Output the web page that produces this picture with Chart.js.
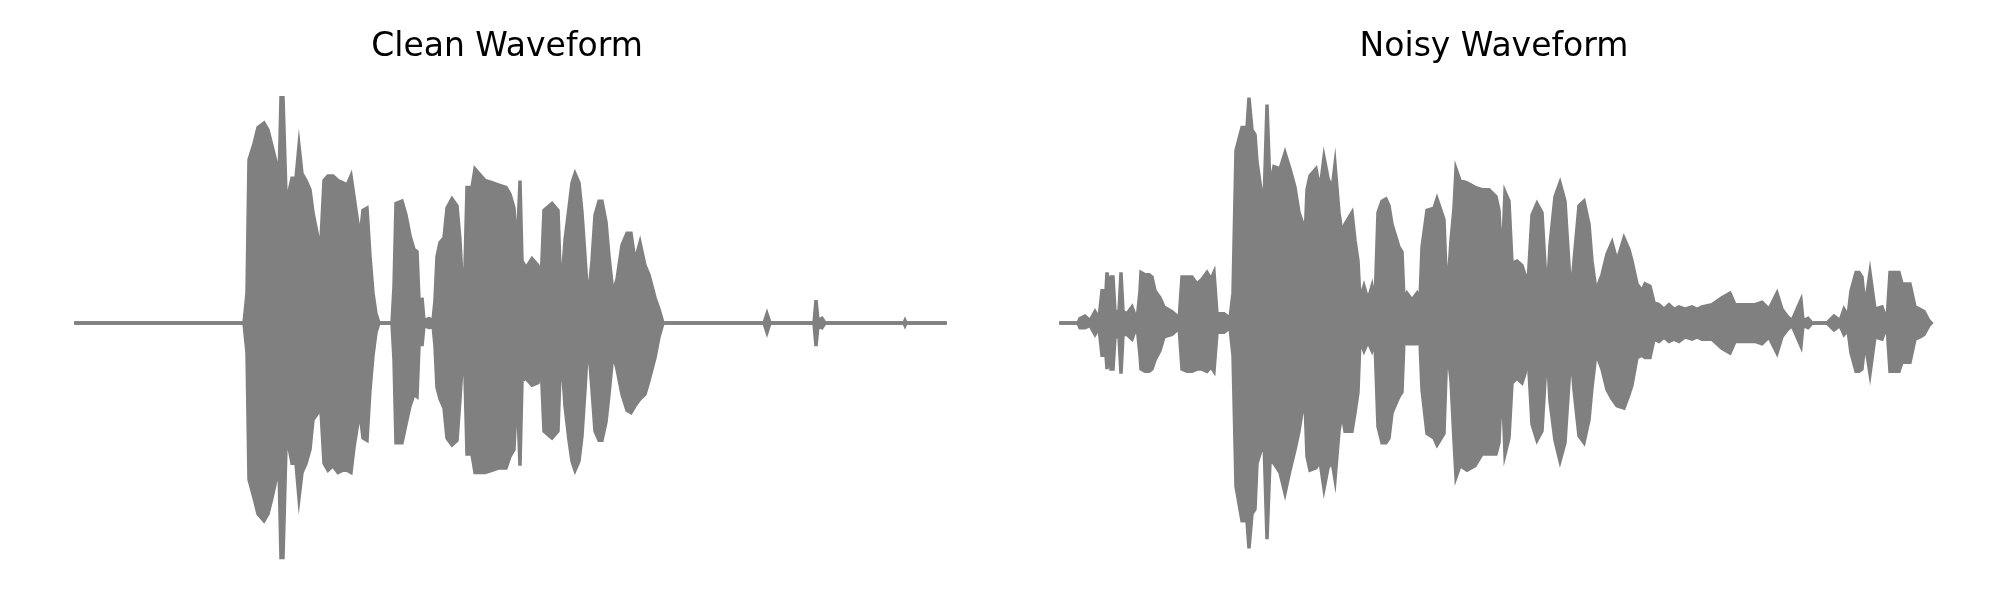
<!DOCTYPE html>
<html>
<head>
<meta charset="utf-8">
<script src="https://cdn.jsdelivr.net/npm/chart.js@4.4.1/dist/chart.umd.min.js"></script>
<style>
  body { margin: 0; background: #fff; }
  .row { display: flex; width: 2000px; height: 600px; }
  canvas { display: block; }
</style>
</head>
<body>
<div class="row">
  <canvas id="clean" width="1000" height="600"></canvas>
  <canvas id="noisy" width="1000" height="600"></canvas>
</div>
<script>
// envelope of each waveform: [time s, upper amp, lower amp]
const cleanRows = [
  [0,0,0],[0.84,0,0],[0.855,0.13,-0.13],[0.865,0.71,-0.68],[0.89,0.78,-0.76],[0.91,0.85,-0.83],
  [0.94,0.87,-0.86],[0.96,0.84,-0.83],[0.98,0.77,-0.76],[1.00,0.70,-0.68],[1.01,0.43,-0.43],
  [1.025,0.98,-1.02],[1.035,0.98,-1.02],[1.05,0.56,-0.54],[1.065,0.57,-0.54],[1.08,0.63,-0.61],
  [1.10,0.63,-0.61],[1.115,0.77,-0.76],[1.13,0.65,-0.65],[1.15,0.62,-0.61],[1.17,0.58,-0.55],
  [1.185,0.48,-0.42],[1.21,0.37,-0.39],[1.225,0.36,-0.38],[1.24,0.62,-0.61],[1.26,0.64,-0.64],
  [1.285,0.64,-0.62],[1.31,0.62,-0.65],[1.335,0.61,-0.64],[1.355,0.60,-0.64],[1.375,0.64,-0.65],
  [1.39,0.55,-0.54],[1.41,0.43,-0.43],[1.42,0.37,-0.39],[1.435,0.49,-0.50],[1.455,0.50,-0.51],
  [1.47,0.29,-0.29],[1.485,0.13,-0.14],[1.50,0.04,-0.04],[1.515,0,0],[1.58,0,0],
  [1.59,0.16,-0.16],[1.6,0.52,-0.52],[1.63,0.53,-0.52],[1.65,0.47,-0.44],[1.67,0.38,-0.36],
  [1.69,0.32,-0.31],[1.705,0.31,-0.32],[1.715,0.10,-0.10],[1.725,0.02,-0.02],[1.73,0.11,-0.10],
  [1.74,0.01,-0.01],[1.765,0.02,-0.02],[1.785,0.01,-0.01],[1.795,0.10,-0.10],[1.805,0.29,-0.28],
  [1.82,0.35,-0.33],[1.84,0.37,-0.37],[1.855,0.50,-0.50],[1.88,0.54,-0.53],[1.905,0.51,-0.51],
  [1.92,0.36,-0.33],[1.93,0.19,-0.19],[1.94,0.07,-0.06],[1.955,0.59,-0.57],[1.98,0.59,-0.57],
  [1.995,0.67,-0.65],[2.015,0.65,-0.65],[2.045,0.62,-0.65],[2.08,0.61,-0.64],[2.115,0.60,-0.63],
  [2.15,0.59,-0.63],[2.17,0.56,-0.58],[2.19,0.50,-0.55],[2.205,0.30,-0.27],[2.22,0.62,-0.62],
  [2.23,0.27,-0.25],[2.25,0.24,-0.24],[2.28,0.28,-0.27],[2.31,0.25,-0.26],[2.325,0.17,-0.17],
  [2.34,0.49,-0.47],[2.38,0.52,-0.50],[2.41,0.49,-0.47],[2.425,0.11,-0.10],[2.445,0.36,-0.36],
  [2.465,0.50,-0.51],[2.48,0.61,-0.60],[2.495,0.65,-0.64],[2.515,0.61,-0.60],[2.53,0.48,-0.49],
  [2.545,0.29,-0.29],[2.56,0.09,-0.06],[2.58,0.27,-0.29],[2.595,0.47,-0.47],[2.615,0.53,-0.51],
  [2.63,0.53,-0.51],[2.65,0.44,-0.43],[2.665,0.29,-0.31],[2.685,0.13,-0.13],[2.705,0.19,-0.20],
  [2.73,0.34,-0.31],[2.755,0.39,-0.38],[2.775,0.39,-0.39],[2.795,0.27,-0.36],[2.82,0.35,-0.33],
  [2.845,0.25,-0.31],[2.865,0.21,-0.25],[2.895,0.11,-0.15],[2.915,0.06,-0.06],[2.935,0,0],
  [3.44,0,0],[3.455,0.04,-0.04],[3.47,0,0],[3.69,0,0],[3.70,0.10,-0.10],[3.71,0.01,-0.01],
  [3.73,0.02,-0.02],[3.745,0,0],[4.14,0,0],[4.145,0.01,-0.01],[4.15,0,0],[4.345,0,0]
];

const noisyRows = [
  [0,0,0],[0.085,0,0],[0.095,0.02,-0.02],[0.12,0.03,-0.02],[0.145,0.01,-0.01],[0.17,0.05,-0.05],
  [0.19,0.02,-0.02],[0.205,0.14,-0.14],[0.225,0.14,-0.14],[0.23,0.22,-0.20],[0.24,0.12,-0.12],
  [0.25,0.20,-0.20],[0.26,0.20,-0.20],[0.27,0.05,-0.06],[0.29,0.05,-0.06],[0.30,0.22,-0.22],
  [0.31,0.05,-0.05],[0.33,0.04,-0.05],[0.355,0.07,-0.07],[0.38,0.01,-0.01],[0.395,0.14,-0.14],
  [0.40,0.22,-0.20],[0.42,0.21,-0.21],[0.44,0.21,-0.21],[0.455,0.20,-0.20],[0.47,0.14,-0.16],
  [0.495,0.11,-0.12],[0.515,0.07,-0.06],[0.555,0.05,-0.05],[0.58,0.03,-0.03],[0.59,0.01,-0.01],
  [0.605,0.20,-0.20],[0.63,0.20,-0.21],[0.655,0.20,-0.21],[0.68,0.17,-0.20],[0.705,0.19,-0.20],
  [0.73,0.22,-0.21],[0.75,0.19,-0.19],[0.765,0.22,-0.21],[0.78,0.04,-0.04],[0.815,0.04,-0.04],
  [0.845,0.02,-0.02],[0.86,0.13,-0.14],[0.875,0.75,-0.71],[0.905,0.85,-0.86],[0.93,0.85,-0.86],
  [0.94,0.98,-0.98],[0.955,0.84,-0.83],[0.97,0.82,-0.81],[0.98,0.70,-0.61],[1.005,0.55,-0.54],
  [1.015,0.52,-0.51],[1.03,0.95,-0.94],[1.045,0.59,-0.60],[1.065,0.68,-0.61],[1.095,0.67,-0.65],
  [1.12,0.74,-0.74],[1.145,0.67,-0.64],[1.17,0.59,-0.55],[1.19,0.48,-0.47],[1.21,0.43,-0.36],
  [1.22,0.36,-0.34],[1.23,0.58,-0.58],[1.245,0.64,-0.64],[1.275,0.67,-0.63],[1.295,0.58,-0.60],
  [1.315,0.72,-0.72],[1.335,0.63,-0.63],[1.355,0.58,-0.60],[1.37,0.69,-0.68],[1.39,0.48,-0.47],
  [1.405,0.39,-0.39],[1.42,0.43,-0.47],[1.455,0.48,-0.47],[1.47,0.36,-0.39],[1.485,0.27,-0.30],
  [1.495,0.10,-0.07],[1.515,0.16,-0.12],[1.535,0.10,-0.08],[1.555,0.16,-0.12],[1.57,0.08,-0.08],
  [1.585,0.48,-0.45],[1.605,0.53,-0.52],[1.625,0.54,-0.52],[1.64,0.51,-0.50],[1.655,0.43,-0.39],
  [1.69,0.33,-0.32],[1.705,0.31,-0.30],[1.715,0.10,-0.07],[1.73,0.13,-0.09],[1.755,0.10,-0.09],
  [1.78,0.13,-0.09],[1.795,0.10,-0.08],[1.805,0.33,-0.29],[1.83,0.49,-0.48],[1.865,0.50,-0.50],
  [1.88,0.54,-0.53],[1.915,0.45,-0.48],[1.93,0.10,-0.09],[1.95,0.36,-0.25],[1.965,0.50,-0.51],
  [1.975,0.67,-0.67],[1.995,0.62,-0.62],[2.03,0.61,-0.64],[2.07,0.59,-0.62],[2.105,0.58,-0.57],
  [2.14,0.58,-0.57],[2.175,0.55,-0.57],[2.19,0.49,-0.52],[2.205,0.24,-0.22],[2.22,0.57,-0.57],
  [2.24,0.53,-0.50],[2.255,0.26,-0.26],[2.28,0.27,-0.24],[2.305,0.25,-0.26],[2.32,0.21,-0.22],
  [2.335,0.17,-0.13],[2.355,0.47,-0.44],[2.38,0.52,-0.51],[2.405,0.48,-0.47],[2.43,0.10,-0.10],
  [2.445,0.34,-0.34],[2.47,0.55,-0.51],[2.495,0.61,-0.60],[2.52,0.53,-0.52],[2.535,0.32,-0.32],
  [2.55,0.11,-0.12],[2.565,0.27,-0.29],[2.59,0.51,-0.49],[2.615,0.53,-0.52],[2.64,0.43,-0.42],
  [2.655,0.27,-0.28],[2.675,0.14,-0.13],[2.705,0.21,-0.20],[2.73,0.30,-0.29],[2.755,0.35,-0.33],
  [2.78,0.27,-0.36],[2.815,0.37,-0.37],[2.84,0.32,-0.31],[2.855,0.27,-0.27],[2.88,0.17,-0.15],
  [2.905,0.14,-0.14],[2.92,0.17,-0.15],[2.945,0.16,-0.15],[2.965,0.09,-0.07],[2.99,0.08,-0.08],
  [3.015,0.06,-0.06],[3.04,0.08,-0.08],[3.065,0.06,-0.07],[3.09,0.07,-0.08],[3.12,0.06,-0.06],
  [3.155,0.07,-0.07],[3.18,0.06,-0.06],[3.205,0.07,-0.07],[3.255,0.08,-0.07],[3.305,0.11,-0.11],
  [3.345,0.13,-0.13],[3.37,0.08,-0.08],[3.42,0.08,-0.08],[3.47,0.08,-0.08],[3.505,0.09,-0.09],
  [3.54,0.06,-0.06],[3.58,0.13,-0.13],[3.605,0.06,-0.06],[3.63,0.03,-0.03],[3.655,0.01,-0.01],
  [3.70,0.10,-0.10],[3.71,0.01,-0.01],[3.735,0.02,-0.02],[3.755,0,0],[3.83,0,0],
  [3.865,0.03,-0.03],[3.895,0.01,-0.01],[3.915,0.06,-0.05],[3.935,0.03,-0.03],[3.95,0.14,-0.13],
  [3.975,0.22,-0.21],[3.99,0.22,-0.21],[4.005,0.20,-0.20],[4.02,0.07,-0.08],[4.045,0.22,-0.22],
  [4.07,0.06,-0.06],[4.105,0.07,-0.07],[4.13,0.01,-0.01],[4.145,0.22,-0.21],[4.17,0.22,-0.21],
  [4.19,0.22,-0.21],[4.205,0.17,-0.17],[4.245,0.17,-0.17],[4.27,0.07,-0.07],[4.295,0.06,-0.06],
  [4.315,0.05,-0.05],[4.34,0.01,-0.01],[4.35,0,0]
];

const cleanTime = cleanRows.map(r => r[0]);
const cleanUpper = cleanRows.map(r => r[1]);
const cleanLower = cleanRows.map(r => r[2]);
const noisyTime = noisyRows.map(r => r[0]);
const noisyUpper = noisyRows.map(r => r[1]);
const noisyLower = noisyRows.map(r => r[2]);

const duration = 4.35;
const waveColor = '#808080';

function createWaveformChart(canvasId, title, time, upper, lower, xMin, pad) {
  const ctx = document.getElementById(canvasId);
  const toPoints = vals => vals.map((v, i) => ({ x: time[i], y: v }));
  const lineStyle = {
    borderColor: waveColor,
    backgroundColor: waveColor,
    borderWidth: 3.5,
    borderCapStyle: 'square',
    borderJoinStyle: 'miter',
    pointRadius: 0,
    tension: 0,
    clip: false
  };

  new Chart(ctx, {
    type: 'line',
    data: {
      datasets: [
        Object.assign({ data: toPoints(upper), fill: '+1' }, lineStyle),
        Object.assign({ data: toPoints(lower), fill: false }, lineStyle)
      ]
    },
    options: {
      responsive: false,
      animation: false,
      layout: { padding: pad },
      plugins: {
        legend: { display: false },
        tooltip: { enabled: false },
        title: {
          display: true,
          text: title,
          color: '#000000',
          font: { family: 'DejaVu Sans', size: 33, weight: 'normal' },
          padding: { top: 28, bottom: 14 }
        }
      },
      scales: {
        x: { type: 'linear', min: xMin, max: duration, display: false },
        y: { min: -1.05, max: 1.05, display: false }
      }
    }
  });
}

createWaveformChart('clean', 'Clean Waveform', cleanTime, cleanUpper, cleanLower, -0.04,
  { top: 0, bottom: 35.5, left: 68, right: 54 });
createWaveformChart('noisy', 'Noisy Waveform', noisyTime, noisyUpper, noisyLower, -0.02,
  { top: 0, bottom: 35.5, left: 57, right: 69 });
</script>
</body>
</html>
